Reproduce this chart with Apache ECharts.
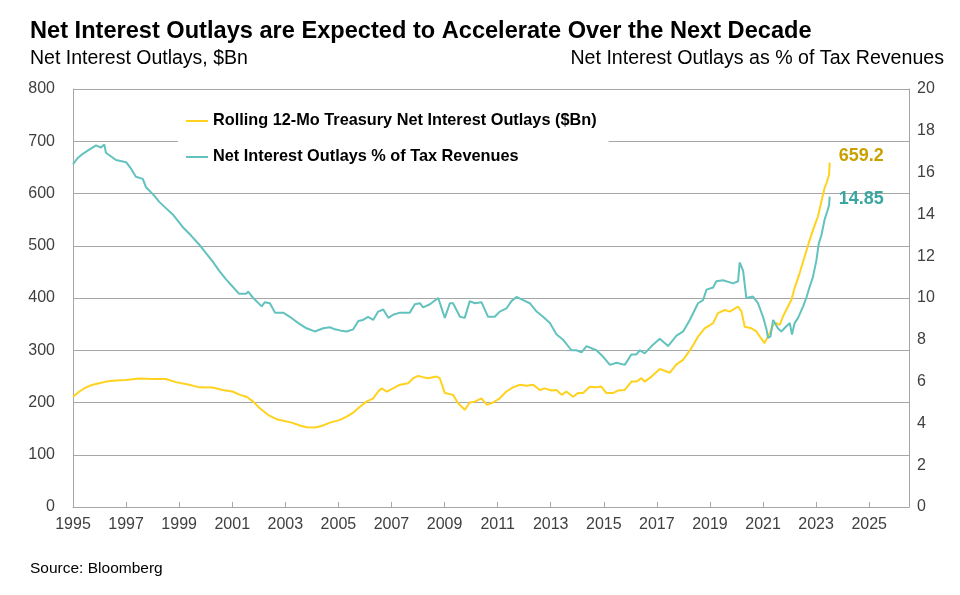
<!DOCTYPE html>
<html><head><meta charset="utf-8">
<script src="https://cdn.jsdelivr.net/npm/echarts@6/dist/echarts.min.js"></script>
<style>html,body{margin:0;padding:0;background:#fff}#c{width:960px;height:595px}</style>
</head><body><div id="c"></div>
<script>
// Rolling 12-Mo Treasury Net Interest Outlays ($Bn), left axis
var outlayYears = [1995.0,1995.24,1995.49,1995.74,1995.99,1996.24,1996.62,1997.0,1997.5,1998.0,1998.5,1998.88,1999.38,1999.76,2000.26,2000.64,2001.01,2001.29,2001.54,2001.79,2002.04,2002.36,2002.67,2002.92,2003.24,2003.55,2003.8,2004.11,2004.37,2004.68,2005.06,2005.31,2005.56,2005.81,2006.06,2006.31,2006.5,2006.63,2006.82,2007.06,2007.32,2007.63,2007.82,2008.01,2008.19,2008.38,2008.7,2008.82,2009.01,2009.32,2009.51,2009.76,2009.95,2010.14,2010.39,2010.6,2010.83,2011.08,2011.33,2011.58,2011.84,2012.09,2012.34,2012.59,2012.78,2013.03,2013.22,2013.41,2013.59,2013.84,2014.03,2014.22,2014.47,2014.72,2014.91,2015.1,2015.35,2015.54,2015.79,2016.04,2016.23,2016.42,2016.54,2016.8,2017.11,2017.49,2017.74,2017.99,2018.3,2018.55,2018.8,2019.12,2019.3,2019.56,2019.75,2020.06,2020.19,2020.31,2020.56,2020.75,2020.88,2021.06,2021.13,2021.25,2021.38,2021.5,2021.63,2021.75,2021.94,2022.07,2022.19,2022.38,2022.57,2022.76,2022.95,2023.07,2023.2,2023.32,2023.41,2023.49,2023.51];
var outlayValues = [211,221,229,234,237,240,242,243,246,245,245,239,234,229,228.6,224,221,214.6,211,201.7,189,176,168,165,161.5,156,152.7,152,155,161.5,166.7,173,180.7,192,201.7,208,221,227,221,227,234,237,246.5,251,248.5,246.5,249.6,246.5,218,214.6,198.7,186,200,201.7,208,195.4,200,208,221,229,234,232,234,224,227,223,224,214.6,221,211,218,218,230,229,230.5,218,218,223,224,240,240,246.5,240,249.6,264,257,273,281.6,304,326,342,352,371,377,374,383.7,374,345,342,336,326,313.6,315,332.8,348.7,352,348.7,364.6,383.7,396.5,419,447.7,479.5,511.5,540,556,585,610.5,623,636,659.2];

// Net Interest Outlays % of Tax Revenues, right axis
var pctYears = [1995.0,1995.18,1995.37,1995.61,1995.87,1996.05,1996.18,1996.24,1996.62,1997.0,1997.18,1997.37,1997.63,1997.75,1998.06,1998.25,1998.5,1998.76,1999.13,1999.44,1999.76,2000.01,2000.26,2000.51,2000.76,2001.01,2001.26,2001.52,2001.6,2001.79,2002.11,2002.23,2002.42,2002.61,2002.92,2003.17,2003.49,2003.8,2004.11,2004.43,2004.68,2004.87,2005.06,2005.31,2005.56,2005.75,2005.93,2006.12,2006.31,2006.5,2006.69,2006.88,2007.06,2007.32,2007.69,2007.88,2008.07,2008.19,2008.45,2008.76,2009.01,2009.2,2009.32,2009.58,2009.76,2009.95,2010.14,2010.39,2010.64,2010.89,2011.08,2011.33,2011.52,2011.71,2011.96,2012.21,2012.47,2012.71,2012.97,2013.22,2013.47,2013.78,2013.97,2014.16,2014.35,2014.72,2014.97,2015.23,2015.48,2015.79,2016.04,2016.23,2016.36,2016.54,2016.8,2017.11,2017.42,2017.74,2017.99,2018.24,2018.55,2018.74,2018.87,2019.12,2019.24,2019.49,2019.87,2020.06,2020.12,2020.25,2020.37,2020.62,2020.81,2021.0,2021.13,2021.19,2021.28,2021.38,2021.44,2021.56,2021.69,2021.88,2022.01,2022.09,2022.19,2022.32,2022.51,2022.63,2022.76,2022.88,2023.01,2023.1,2023.2,2023.32,2023.41,2023.49,2023.51];
var pctValues = [16.4,16.7,16.9,17.1,17.3,17.2,17.35,16.95,16.6,16.5,16.2,15.8,15.7,15.3,14.9,14.6,14.3,14.0,13.4,13.0,12.55,12.15,11.75,11.3,10.9,10.55,10.2,10.2,10.3,10.0,9.6,9.8,9.75,9.3,9.3,9.1,8.8,8.55,8.4,8.55,8.6,8.5,8.45,8.4,8.5,8.9,8.95,9.1,8.95,9.35,9.45,9.05,9.2,9.3,9.3,9.7,9.75,9.55,9.7,10.0,9.05,9.75,9.75,9.1,9.05,9.85,9.75,9.8,9.1,9.1,9.35,9.5,9.85,10.05,9.9,9.75,9.35,9.1,8.8,8.25,8.0,7.5,7.5,7.4,7.7,7.5,7.2,6.8,6.9,6.8,7.3,7.3,7.5,7.35,7.7,8.05,7.7,8.2,8.4,8.95,9.75,9.9,10.4,10.5,10.8,10.85,10.7,10.8,11.7,11.3,10.0,10.07,9.75,9.1,8.5,8.1,8.15,8.95,8.95,8.55,8.4,8.65,8.8,8.25,8.8,9.05,9.6,10.0,10.55,11.0,11.8,12.6,13.0,13.75,14.1,14.45,14.85];

var seriesNames = ['Rolling 12-Mo Treasury Net Interest Outlays ($Bn)', 'Net Interest Outlays % of Tax Revenues'];
var leftTitle = 'Net Interest Outlays, $Bn';
var rightTitle = 'Net Interest Outlays as % of Tax Revenues';
var mainTitle = 'Net Interest Outlays are Expected to Accelerate Over the Next Decade';
var sourceText = 'Source: Bloomberg';

function pairs(xs, ys){ return xs.map(function(x,i){ return [x, ys[i]]; }); }

var SANS = '"Liberation Sans", Arial, sans-serif';

var chart = echarts.init(document.getElementById('c'), null, {renderer:'canvas'});
chart.setOption({
  animation: false,
  backgroundColor: '#fff',
  title: [
    {text: mainTitle, left: 25, top: 14, textStyle:{fontFamily: SANS, fontWeight:'bold', fontSize: 23.6, color:'#000'}},
    {text: leftTitle, left: 25, top: 44, textStyle:{fontFamily: SANS, fontWeight:'normal', fontSize: 19.5, color:'#000'}},
    {text: rightTitle, right: 11, top: 44, textStyle:{fontFamily: SANS, fontWeight:'normal', fontSize: 19.6, color:'#000'}},
    {text: sourceText, left: 25, top: 556, textStyle:{fontFamily: SANS, fontWeight:'normal', fontSize: 15.5, color:'#000'}}
  ],
  legend: {
    left: 178, top: 101, orient: 'vertical',
    backgroundColor: '#fff',
    padding: [11, 12, 11, 8],
    itemGap: 18, itemWidth: 22, itemHeight: 2, icon: 'rect',
    textStyle: {fontFamily: SANS, fontWeight:'bold', fontSize: 16.3, color:'#000', lineHeight: 18},
    data: seriesNames
  },
  grid: {left: 73, right: 51, top: 89, bottom: 88, containLabel: false},
  xAxis: {
    type: 'value', min: 1995, max: 2026.5, interval: 2,
    axisLine: {show: true, lineStyle:{color:'#A6A6A6', width:1}},
    axisTick: {show: true, inside: true, length: 5, lineStyle:{color:'#A6A6A6'}},
    splitLine: {show: false},
    axisLabel: {fontFamily: SANS, fontSize: 16, color:'#404040', margin: 10, showMaxLabel: false,
      formatter: function(v){ return Number.isInteger(v) ? String(v) : ''; }}
  },
  yAxis: [
    {type:'value', min:0, max:800, interval:100, position:'left',
     axisLine:{show:true, lineStyle:{color:'#A6A6A6'}}, axisTick:{show:false},
     splitLine:{show:true, lineStyle:{color:'#A6A6A6', width:1}},
     axisLabel:{fontFamily: SANS, fontSize:16, color:'#404040', margin: 18}},
    {type:'value', min:0, max:20, interval:2, position:'right',
     axisLine:{show:true, lineStyle:{color:'#A6A6A6'}}, axisTick:{show:false},
     splitLine:{show:false},
     axisLabel:{fontFamily: SANS, fontSize:16, color:'#404040', margin: 8}}
  ],
  series: [
    {name: seriesNames[0], type:'line', yAxisIndex:0, symbol:'none', showSymbol:false,
     lineStyle:{color:'#FFD21F', width:2}, itemStyle:{color:'#FFD21F'},
     data: pairs(outlayYears, outlayValues),
     endLabel:{show:true, formatter:function(p){ return p.value[1].toFixed(1); },
       fontFamily: SANS, fontWeight:'bold', fontSize:18, color:'#C9A100', offset:[1,-7]}},
    {name: seriesNames[1], type:'line', yAxisIndex:1, symbol:'none', showSymbol:false,
     lineStyle:{color:'#62C2BE', width:2}, itemStyle:{color:'#62C2BE'},
     data: pairs(pctYears, pctValues),
     endLabel:{show:true, formatter:function(p){ return p.value[1].toFixed(2); },
       fontFamily: SANS, fontWeight:'bold', fontSize:18, color:'#3AA6A1', offset:[1,2]}}
  ]
});
</script>
</body></html>
